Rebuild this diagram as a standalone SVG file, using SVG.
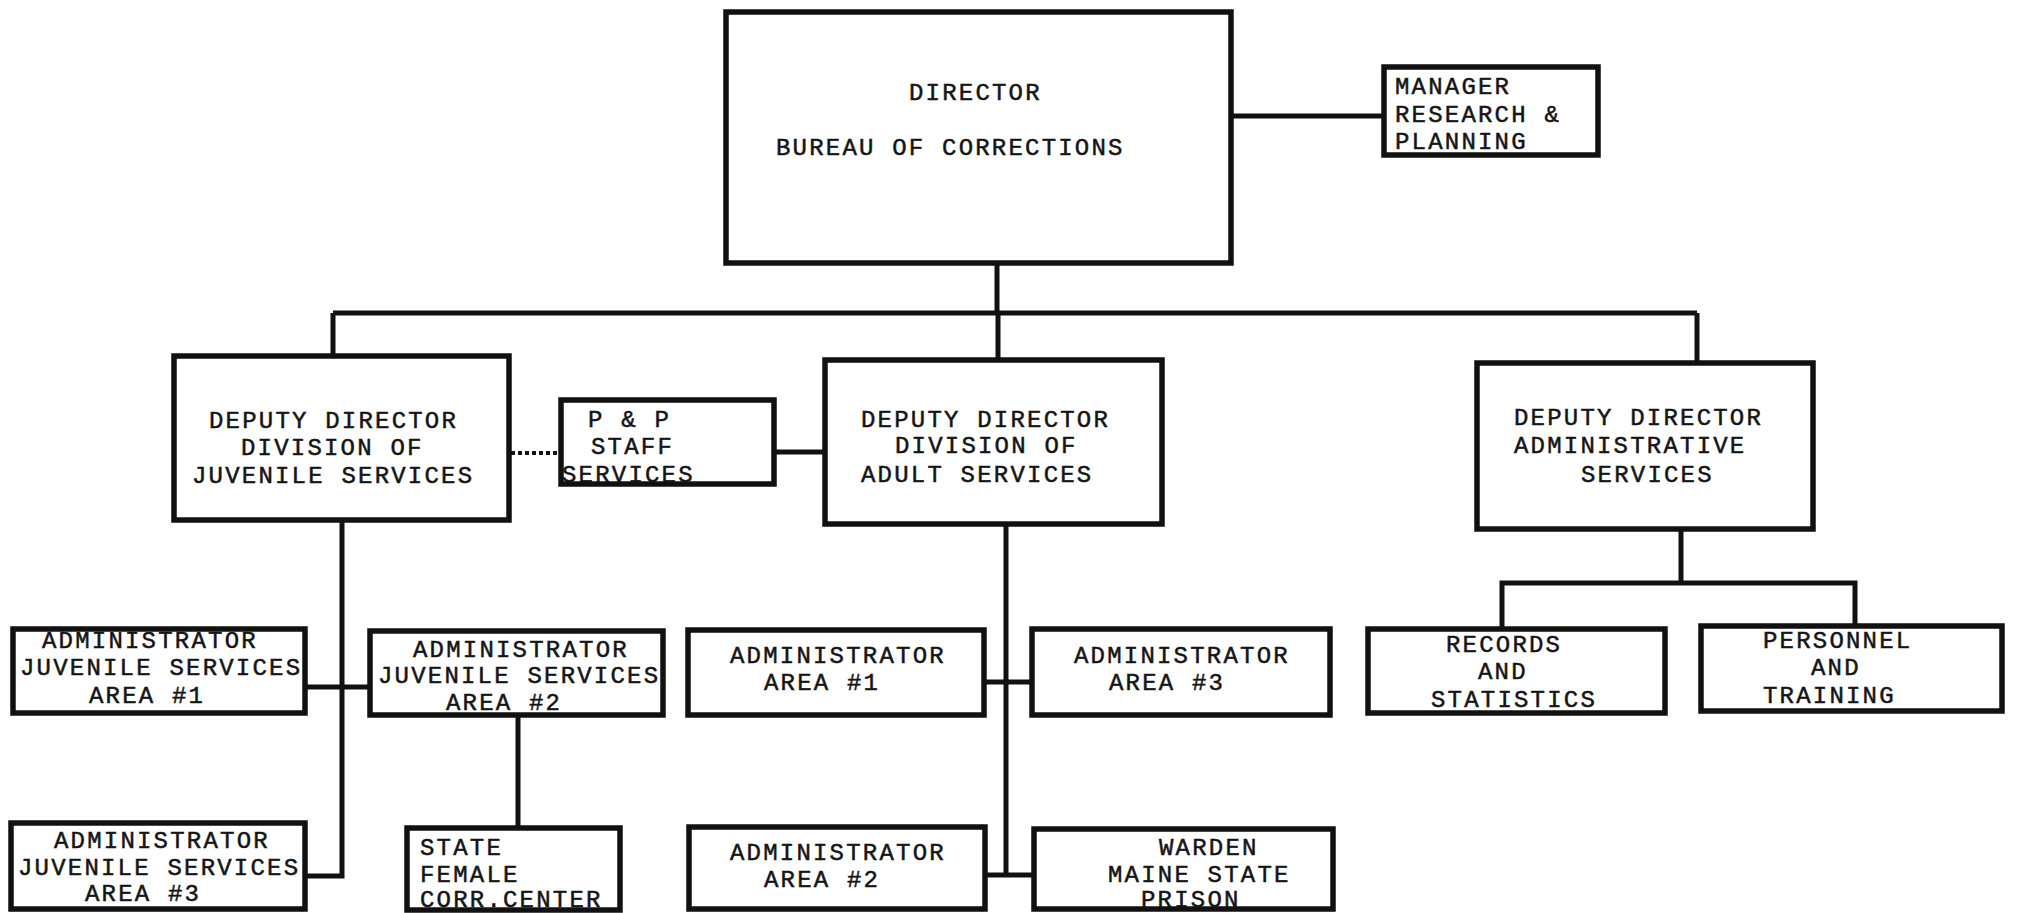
<svg xmlns="http://www.w3.org/2000/svg" width="2019" height="913" viewBox="0 0 2019 913">
<style>
.box{fill:#fff;stroke:#111;stroke-width:5.5}
.ln{fill:none;stroke:#111;stroke-width:5}
.dot{fill:none;stroke:#111;stroke-width:4;stroke-dasharray:4 3}
text{font-family:"Liberation Mono","DejaVu Sans Mono",monospace;font-size:24px;letter-spacing:2.2px;fill:#151515;stroke:#151515;stroke-width:0.5}
</style>
<rect width="2019" height="913" fill="#fff"/>
<g id="connectors">
<path class="ln" d="M1233 116H1382"/>
<path class="ln" d="M997 265V313"/>
<path class="ln" d="M333 313H1697"/>
<path class="ln" d="M333 313V354"/>
<path class="ln" d="M998 313V358"/>
<path class="ln" d="M1697 313V361"/>
<path class="dot" d="M511 453H559"/>
<path class="ln" d="M776 452H823"/>
<path class="ln" d="M342 522V876H307"/>
<path class="ln" d="M307 687H368"/>
<path class="ln" d="M518 717V826"/>
<path class="ln" d="M1006 526V875"/>
<path class="ln" d="M986 682H1030"/>
<path class="ln" d="M987 875H1032"/>
<path class="ln" d="M1681 531V583"/>
<path class="ln" d="M1502 627V583H1855V624"/>
</g>
<g id="director">
<rect class="box" x="726" y="12" width="505" height="251"/>
<text x="909" y="100">DIRECTOR</text>
<text x="776" y="155">BUREAU OF CORRECTIONS</text>
</g>
<g id="manager">
<rect class="box" x="1384" y="67" width="214" height="88"/>
<text x="1395" y="94">MANAGER</text>
<text x="1395" y="122">RESEARCH &amp;</text>
<text x="1395" y="149">PLANNING</text>
</g>
<g id="deputy-juvenile">
<rect class="box" x="174" y="356" width="335" height="164"/>
<text x="209" y="428">DEPUTY DIRECTOR</text>
<text x="241" y="455">DIVISION OF</text>
<text x="192" y="483">JUVENILE SERVICES</text>
</g>
<g id="pp-staff">
<rect class="box" x="561" y="400" width="213" height="84"/>
<text x="588" y="427">P &amp; P</text>
<text x="591" y="454">STAFF</text>
<text x="562" y="482">SERVICES</text>
</g>
<g id="deputy-adult">
<rect class="box" x="825" y="360" width="337" height="164"/>
<text x="861" y="427">DEPUTY DIRECTOR</text>
<text x="895" y="453">DIVISION OF</text>
<text x="861" y="482">ADULT SERVICES</text>
</g>
<g id="deputy-admin">
<rect class="box" x="1477" y="363" width="336" height="166"/>
<text x="1514" y="425">DEPUTY DIRECTOR</text>
<text x="1514" y="453">ADMINISTRATIVE</text>
<text x="1581" y="482">SERVICES</text>
</g>
<g id="juv-area1">
<rect class="box" x="13" y="629" width="292" height="84"/>
<text x="42" y="648">ADMINISTRATOR</text>
<text x="20" y="675">JUVENILE SERVICES</text>
<text x="89" y="703">AREA #1</text>
</g>
<g id="juv-area2">
<rect class="box" x="370" y="631" width="293" height="84"/>
<text x="413" y="657">ADMINISTRATOR</text>
<text x="378" y="683">JUVENILE SERVICES</text>
<text x="446" y="710">AREA #2</text>
</g>
<g id="juv-area3">
<rect class="box" x="11" y="823" width="294" height="86"/>
<text x="54" y="848">ADMINISTRATOR</text>
<text x="18" y="875">JUVENILE SERVICES</text>
<text x="85" y="901">AREA #3</text>
</g>
<g id="state-female">
<rect class="box" x="407" y="828" width="213" height="82"/>
<text x="420" y="855">STATE</text>
<text x="420" y="882">FEMALE</text>
<text x="420" y="907">CORR.CENTER</text>
</g>
<g id="adult-area1">
<rect class="box" x="688" y="630" width="296" height="85"/>
<text x="730" y="663">ADMINISTRATOR</text>
<text x="764" y="690">AREA #1</text>
</g>
<g id="adult-area3">
<rect class="box" x="1032" y="629" width="298" height="86"/>
<text x="1074" y="663">ADMINISTRATOR</text>
<text x="1109" y="690">AREA #3</text>
</g>
<g id="adult-area2">
<rect class="box" x="689" y="827" width="296" height="82"/>
<text x="730" y="860">ADMINISTRATOR</text>
<text x="764" y="887">AREA #2</text>
</g>
<g id="warden">
<rect class="box" x="1034" y="829" width="299" height="80"/>
<text x="1159" y="855">WARDEN</text>
<text x="1108" y="882">MAINE STATE</text>
<text x="1141" y="907">PRISON</text>
</g>
<g id="records">
<rect class="box" x="1368" y="629" width="297" height="84"/>
<text x="1446" y="652">RECORDS</text>
<text x="1478" y="679">AND</text>
<text x="1431" y="707">STATISTICS</text>
</g>
<g id="personnel">
<rect class="box" x="1701" y="626" width="301" height="85"/>
<text x="1763" y="648">PERSONNEL</text>
<text x="1811" y="675">AND</text>
<text x="1763" y="703">TRAINING</text>
</g>
</svg>
